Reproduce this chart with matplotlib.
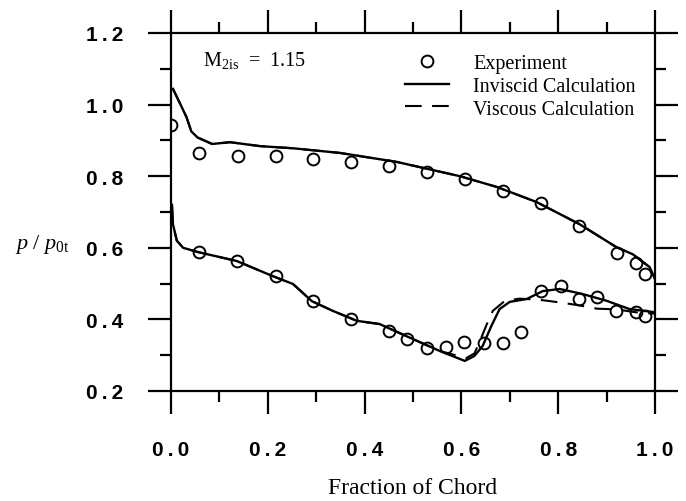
"""
Blade surface pressure distribution, M2is = 1.15
Experiment vs inviscid and viscous calculations
"""

import matplotlib
matplotlib.use("Agg")
import matplotlib.pyplot as plt
from matplotlib.ticker import MultipleLocator, FuncFormatter

# Experiment, suction side (upper curve)
exp_upper_x = [0.0, 0.058, 0.138, 0.217, 0.293, 0.371, 0.45, 0.528, 0.607,
               0.685, 0.765, 0.844, 0.922, 0.96, 0.98]
exp_upper_y = [0.943, 0.865, 0.856, 0.856, 0.848, 0.840, 0.828, 0.812, 0.792,
               0.759, 0.725, 0.661, 0.585, 0.558, 0.528]

# Experiment, pressure side (lower curve)
exp_lower_x = [0.058, 0.137, 0.217, 0.293, 0.371, 0.45, 0.487, 0.528, 0.568,
               0.605, 0.646, 0.685, 0.724, 0.765, 0.805, 0.844, 0.881, 0.92,
               0.96, 0.98]
exp_lower_y = [0.588, 0.563, 0.521, 0.452, 0.400, 0.368, 0.345, 0.320, 0.323,
               0.337, 0.334, 0.334, 0.365, 0.479, 0.493, 0.457, 0.463, 0.424,
               0.420, 0.410]

# Inviscid calculation
inv_upper_x = [0.004, 0.018, 0.032, 0.042, 0.055, 0.085, 0.122, 0.184, 0.252,
               0.349, 0.466, 0.597, 0.673, 0.755, 0.844, 0.92, 0.954, 0.989,
               1.0]
inv_upper_y = [1.044, 1.005, 0.965, 0.925, 0.908, 0.890, 0.895, 0.884, 0.878,
               0.865, 0.840, 0.800, 0.770, 0.728, 0.666, 0.602, 0.582, 0.546,
               0.513]

inv_lower_x = [0.002, 0.004, 0.012, 0.025, 0.056, 0.136, 0.21, 0.252, 0.291,
               0.334, 0.384, 0.431, 0.5, 0.555, 0.607, 0.627, 0.644, 0.662,
               0.679, 0.70, 0.735, 0.768, 0.803, 0.85, 0.90, 0.947, 1.0]
inv_lower_y = [0.720, 0.666, 0.620, 0.600, 0.588, 0.563, 0.521, 0.499, 0.451,
               0.424, 0.396, 0.387, 0.345, 0.312, 0.284, 0.298, 0.326, 0.382,
               0.429, 0.449, 0.457, 0.479, 0.485, 0.471, 0.452, 0.429, 0.420]

# Viscous calculation
vis_upper_x = [0.004, 0.018, 0.032, 0.042, 0.055, 0.085, 0.122, 0.184, 0.252,
               0.349, 0.466, 0.597, 0.673, 0.755, 0.844, 0.92, 0.954, 0.989,
               1.0]
vis_upper_y = [1.044, 1.005, 0.965, 0.925, 0.908, 0.890, 0.895, 0.884, 0.878,
               0.865, 0.840, 0.800, 0.770, 0.728, 0.666, 0.602, 0.582, 0.546,
               0.513]

vis_lower_x = [0.002, 0.004, 0.012, 0.025, 0.056, 0.136, 0.21, 0.252, 0.291,
               0.334, 0.384, 0.431, 0.5, 0.555, 0.61, 0.627, 0.64, 0.652,
               0.665, 0.69, 0.72, 0.76, 0.80, 0.84, 0.88, 0.92, 0.96, 1.0]
vis_lower_y = [0.720, 0.666, 0.620, 0.600, 0.588, 0.563, 0.521, 0.499, 0.451,
               0.424, 0.396, 0.387, 0.345, 0.312, 0.292, 0.305, 0.345, 0.385,
               0.424, 0.452, 0.458, 0.455, 0.448, 0.440, 0.430, 0.428, 0.420,
               0.416]

plt.rcParams['font.family'] = ['Liberation Serif', 'DejaVu Serif']
plt.rcParams['mathtext.fontset'] = 'custom'
plt.rcParams['mathtext.rm'] = 'Liberation Serif'
plt.rcParams['mathtext.it'] = 'Liberation Serif:italic'

fig = plt.figure(figsize=(6.86, 5.02), dpi=100)
ax = fig.add_axes([171 / 686, 1 - 392 / 502, 484 / 686, 358 / 502])

ax.plot(inv_upper_x, inv_upper_y, color='black', lw=1.7,
        label='Inviscid Calculation')
ax.plot(inv_lower_x, inv_lower_y, color='black', lw=1.7)
ax.plot(vis_upper_x, vis_upper_y, color='black', lw=1.5,
        linestyle=(0, (8, 5)), label='Viscous Calculation')
ax.plot(vis_lower_x, vis_lower_y, color='black', lw=1.5,
        linestyle=(0, (8, 5)))
ax.plot(exp_upper_x, exp_upper_y, 'o', mfc='none', mec='black', ms=8.5,
        mew=1.4, label='Experiment')
ax.plot(exp_lower_x, exp_lower_y, 'o', mfc='none', mec='black', ms=8.5,
        mew=1.4)

ax.set_xlim(0.0, 1.0)
ax.set_ylim(0.2, 1.2)

ax.xaxis.set_major_locator(MultipleLocator(0.2))
ax.xaxis.set_minor_locator(MultipleLocator(0.1))
ax.yaxis.set_major_locator(MultipleLocator(0.2))
ax.yaxis.set_minor_locator(MultipleLocator(0.1))
# wide letter spacing as in the printed figure
spaced = FuncFormatter(lambda v, pos: f"{v:.1f}".replace('.', '\u2009.\u2009'))
ax.xaxis.set_major_formatter(spaced)
ax.yaxis.set_major_formatter(spaced)

ax.tick_params(which='both', direction='out', top=True, right=True,
               labeltop=False, labelright=False, width=1.6,
               labelsize=15)
ax.tick_params(which='major', length=16.5)
ax.tick_params(which='minor', length=8)
ax.tick_params(axis='x', which='major', pad=19)
ax.tick_params(axis='y', which='major', pad=18)
for lab in ax.get_xticklabels() + ax.get_yticklabels():
    lab.set_family(['Liberation Sans', 'DejaVu Sans'])
    lab.set_fontweight('bold')
for sp in ax.spines.values():
    sp.set_linewidth(1.6)

ax.text(0.066, 1.127, r"M$_{\mathrm{2is}}$  =  1.15", fontsize=14.5,
        va='center', ha='left')

handles, labels = ax.get_legend_handles_labels()
order = [2, 0, 1]
ax.legend([handles[i] for i in order], [labels[i] for i in order],
          loc='upper left', bbox_to_anchor=(405 / 686, 1 - 55 / 502),
          bbox_transform=fig.transFigure, frameon=False, fontsize=14.5,
          handlelength=2.2, handletextpad=1.2, labelspacing=0.18,
          borderpad=0, borderaxespad=0)

ax.set_xlabel('Fraction of Chord', fontsize=17, labelpad=13)
fig.text(42 / 686, 1 - 245 / 502, r"$p\ /\ p_{\mathrm{0t}}$", fontsize=16,
         ha='center', va='center')

fig.savefig('out.png', dpi=100)
